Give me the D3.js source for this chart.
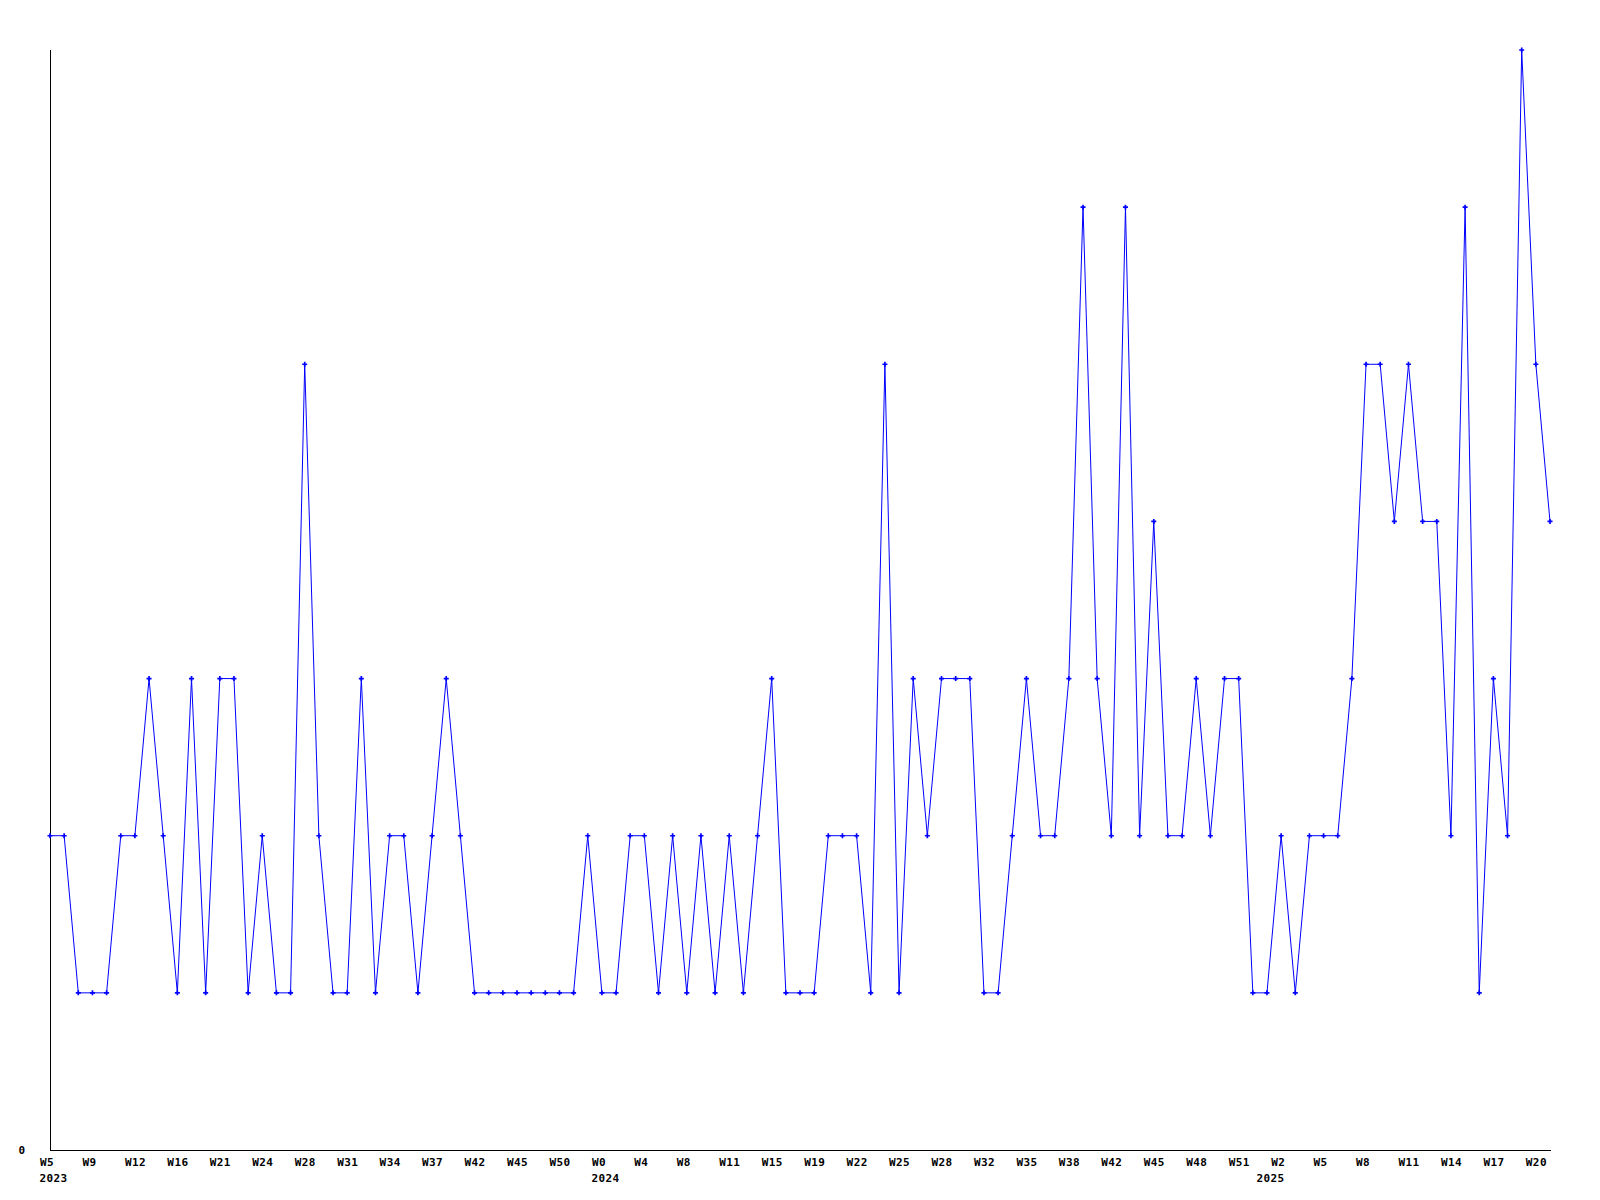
<!DOCTYPE html>
<html>
<head>
<meta charset="utf-8">
<script src="https://cdn.jsdelivr.net/npm/d3@7"></script>
<style>
  html, body { margin: 0; padding: 0; background: #ffffff; }
  svg { display: block; }
  text { font-family: "DejaVu Sans Mono", "Liberation Mono", monospace; font-weight: bold; font-size: 11px; letter-spacing: 0.4px; fill: #000; }
</style>
</head>
<body>
<script>
// ---- data ----
const values = [
  2, 2, 1, 1, 1, 2, 2, 3, 2, 1,
  3, 1, 3, 3, 1, 2, 1, 1, 5, 2,
  1, 1, 3, 1, 2, 2, 1, 2, 3, 2,
  1, 1, 1, 1, 1, 1, 1, 1, 2, 1,
  1, 2, 2, 1, 2, 1, 2, 1, 2, 1,
  2, 3, 1, 1, 1, 2, 2, 2, 1, 5,
  1, 3, 2, 3, 3, 3, 1, 1, 2, 3,
  2, 2, 3, 6, 3, 2, 6, 2, 4, 2,
  2, 3, 2, 3, 3, 1, 1, 2, 1, 2,
  2, 2, 3, 5, 5, 4, 5, 4, 4, 2,
  6, 1, 3, 2, 7, 5, 4
];
// week labels shown every 3rd point
const weekTickLabels = [
  "W5", "W9", "W12", "W16", "W21", "W24", "W28", "W31", "W34", "W37", "W42", "W45",
  "W50", "W0", "W4", "W8", "W11", "W15", "W19", "W22", "W25", "W28", "W32", "W35",
  "W38", "W42", "W45", "W48", "W51", "W2", "W5", "W8", "W11", "W14", "W17", "W20"
];
const tickEvery = 3;
const yearLabels = ["2023", "2024", "2025"];
const yearStartIndex = [0, 39, 86];
const yTickValues = [0];
const yMax = 7;

// ---- layout ----
const W = 1600, H = 1200;
const mLeft = 50, mRight = 1550, mTop = 50, mBottom = 1150;

const svg = d3.select("body").append("svg").attr("width", W).attr("height", H);

const x = d3.scaleLinear().domain([0, values.length - 1]).range([mLeft, mRight]);
const y = d3.scaleLinear().domain([0, yMax]).range([mBottom, mTop]);

// x axis
const tickIdx = weekTickLabels.map((_, i) => i * tickEvery);
const xAxis = d3.axisBottom(x)
  .tickValues(tickIdx)
  .tickFormat((d) => weekTickLabels[d / tickEvery])
  .tickSize(0)
  .tickPadding(0);
const gx = svg.append("g").attr("transform", `translate(0,${mBottom + 0.5})`).call(xAxis);
gx.attr("font-family", null).attr("font-size", null);
gx.select(".domain").attr("d", `M${mLeft},0H${mRight + 1}`).attr("stroke", "#000").attr("shape-rendering", "crispEdges");
gx.selectAll(".tick text")
  .attr("text-anchor", "start")
  .attr("dx", -10.5)
  .attr("y", 15.5)
  .attr("dy", null);

// year labels
svg.append("g").selectAll("text.year")
  .data(yearLabels)
  .join("text")
  .attr("class", "year")
  .attr("x", (d, i) => x(yearStartIndex[i]) - 10.5)
  .attr("y", mBottom + 31.5)
  .text((d) => d);

// y axis
const yAxis = d3.axisLeft(y).tickValues(yTickValues).tickFormat(d3.format("d")).tickSize(0).tickPadding(25);
const gy = svg.append("g").attr("transform", `translate(${mLeft + 0.5},0)`).call(yAxis);
gy.attr("font-family", null).attr("font-size", null);
gy.select(".domain").attr("d", `M0,${mTop}V${mBottom}`).attr("stroke", "#000").attr("shape-rendering", "crispEdges");
gy.selectAll(".tick text").attr("dy", "0.32em");

// line
const line = d3.line().x((d, i) => x(i)).y((d) => y(d));
svg.append("path")
  .datum(values)
  .attr("d", line)
  .attr("fill", "none")
  .attr("stroke", "#0000ff")
  .attr("stroke-width", 1);

// markers
const sym = d3.symbol().type(d3.symbolCross).size(14);
svg.append("g").selectAll("path")
  .data(values)
  .join("path")
  .attr("transform", (d, i) => `translate(${x(i)},${y(d)})`)
  .attr("d", sym)
  .attr("fill", "#0000ff");
</script>
</body>
</html>
